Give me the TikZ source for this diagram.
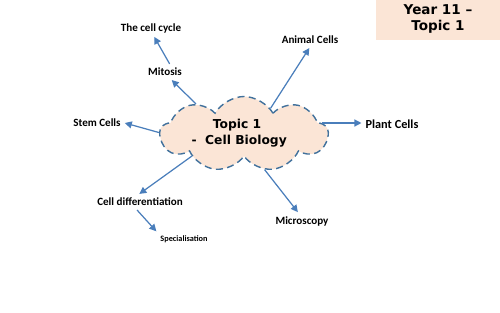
\documentclass[tikz,border=0pt]{standalone}
\usepackage{fontspec}
\setmainfont{Carlito}
\newfontfamily\dejavu{DejaVu Sans}
\usetikzlibrary{shapes.symbols,arrows.meta}
\definecolor{peach}{HTML}{FBE5D6}
\definecolor{cloudline}{HTML}{41719C}
\definecolor{arrowblue}{HTML}{4A7EBB}
\begin{document}
\begin{tikzpicture}[x=.02cm,y=-.02cm,line width=.7pt,
  lbl/.style={font=\fontsize{6.3}{7.5}\selectfont\bfseries,inner sep=2pt},
  link/.style={draw=arrowblue,-{Triangle[width=4pt,length=4pt]}}]
\useasboundingbox (0,0) rectangle (500,313);
\node[fill=peach,minimum width=2.48cm,minimum height=.76cm,align=center,
  font=\dejavu\fontsize{7.7}{9.6}\selectfont\bfseries] (title) at (438,19) {Year 11 –\\Topic 1};
\node[cloud,cloud puffs=9,cloud puff arc=120,aspect=2.2,draw=cloudline,fill=peach,
  line width=.8pt,dash pattern=on 4pt off 2.5pt,
  minimum width=3.36cm,minimum height=1.5cm,inner sep=0pt] (cloud) at (244,134) {};
\node[align=center,font=\dejavu\fontsize{7}{9}\selectfont\bfseries] (topic) at (237,133) {Topic 1\\\ -\ \ Cell Biology};
\node[lbl] (mitosis) at (165,72) {Mitosis};
\node[lbl] (cycle) at (151,28) {The cell cycle};
\node[lbl] (animal) at (310,40) {Animal Cells};
\node[lbl,font=\fontsize{7}{8}\selectfont\bfseries] (plant) at (392,124) {Plant Cells};
\node[lbl] (stem) at (97,123) {Stem Cells};
\node[lbl] (diff) at (140,202) {Cell differentiation};
\node[lbl,font=\fontsize{4.7}{6}\selectfont\bfseries] (spec) at (184,239) {Specialisation};
\node[lbl] (micro) at (302,221) {Microscopy};
\draw[link] (cloud.148) -- (mitosis.-50);
\draw[link] (mitosis.60) -- (cycle.-70);
\draw[link] (cloud.44) -- (animal.-95);
\draw[link] (cloud.8) -- (cloud.8 -| plant.west);
\draw[link] (cloud.179) -- (stem.east);
\draw[link] (cloud.203) -- (diff.95);
\draw[link] (diff.-110) -- (spec.north west);
\draw[link] (cloud.-60) -- (micro.115);
\end{tikzpicture}
\end{document}
